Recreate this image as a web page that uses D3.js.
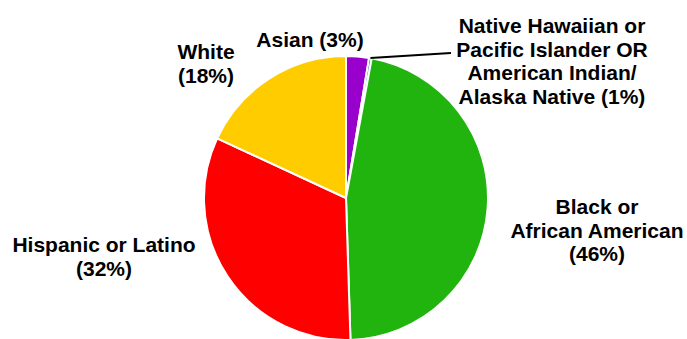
<!DOCTYPE html>
<html>
<head>
<meta charset="utf-8">
<script src="https://cdn.jsdelivr.net/npm/d3@7"></script>
<style>
  html, body { margin: 0; padding: 0; background: #fff; }
  svg { display: block; }
  .lbl { font-family: "Liberation Sans", Arial, sans-serif; font-weight: bold; font-size: 21px; fill: #000; }
</style>
</head>
<body>
<div id="chart"></div>
<script>
const categories = ["Asian", "Native Hawaiian or Pacific Islander OR American Indian/Alaska Native",
                    "Black or African American", "Hispanic or Latino", "White"];
const values = [2.6, 0.3, 46.6, 32.4, 18.1];
const percentLabels = ["3%", "1%", "46%", "32%", "18%"];
const labelLines = [
    ["Asian (3%)"],
    ["Native Hawaiian or", "Pacific Islander OR", "American Indian/", "Alaska Native (1%)"],
    ["Black or", "African American", "(46%)"],
    ["Hispanic or Latino", "(32%)"],
    ["White", "(18%)"]
];
const colors = ["#9900cc", "#1f5fbf", "#22b40e", "#ff0000", "#ffcc00"];

// label layout (centre x, first baseline) in px
const labelPos = [[310, 47], [552, 33], [597, 214], [104, 252], [206, 59]];
const lineH = 23.7;

const size = { width: 687, height: 339 };
const cx = 346, cy = 198, radius = 142;

const svg = d3.select("#chart")
    .append("svg")
        .attr("width", size.width)
        .attr("height", size.height);

const data = categories.map((c, i) => ({ cat: c, value: values[i], pct: percentLabels[i] }));

const pie = d3.pie().sort(null).value(d => d.value);
const arc = d3.arc().innerRadius(0).outerRadius(radius);
const arcs = pie(data);

const g = svg.append("g").attr("transform", `translate(${cx},${cy})`);

g.selectAll(".slice")
    .data(arcs)
    .enter()
    .append("path")
        .attr("class", "slice")
        .attr("d", arc)
        .style("fill", (d, i) => colors[i])
        .style("stroke", "#fff")
        .style("stroke-width", 2)
        .style("stroke-linejoin", "round");

// leader line for the tiny slice
const tiny = arcs[1];
const mid = (tiny.startAngle + tiny.endAngle) / 2;
const p0 = [Math.sin(mid) * radius, -Math.cos(mid) * radius];
g.append("path")
    .attr("d", d3.line()([p0, [451 - cx, 53 - cy]]))
    .style("stroke", "#000")
    .style("stroke-width", 2)
    .style("fill", "none");

const labels = svg.selectAll(".lbl")
    .data(labelLines)
    .enter()
    .append("text")
        .attr("class", "lbl")
        .attr("text-anchor", "middle")
        .attr("x", (d, i) => labelPos[i][0])
        .attr("y", (d, i) => labelPos[i][1]);

labels.selectAll("tspan")
    .data((d, i) => d.map(t => ({ t, x: labelPos[i][0] })))
    .enter()
    .append("tspan")
        .attr("x", d => d.x)
        .attr("dy", (d, j) => j === 0 ? 0 : lineH)
        .text(d => d.t);
</script>
</body>
</html>
